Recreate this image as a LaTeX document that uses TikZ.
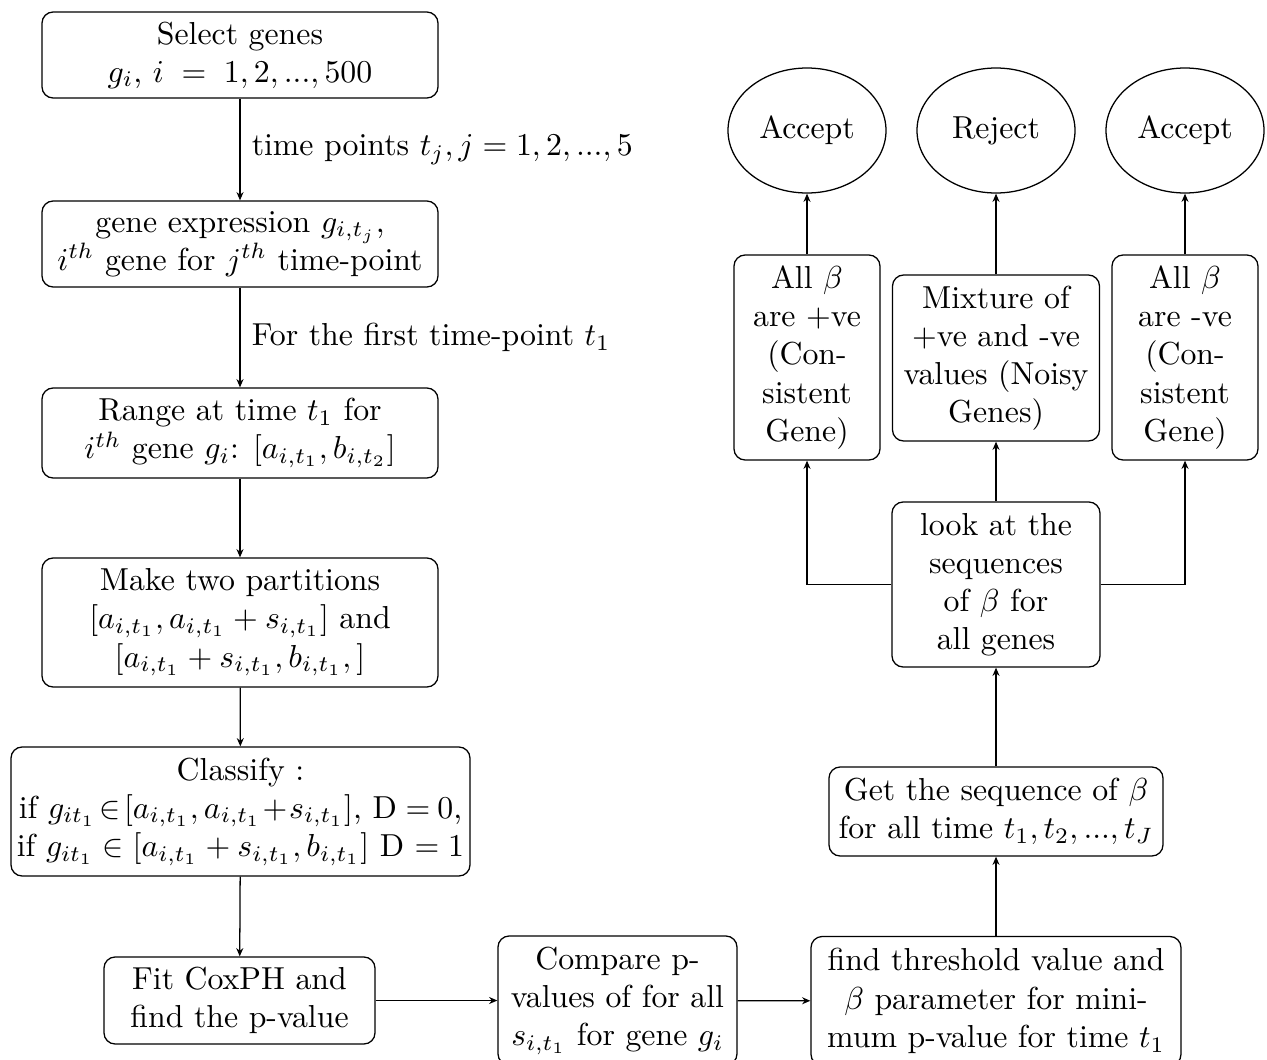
\documentclass[tikz,border=0pt]{standalone}
\usetikzlibrary{shapes.geometric,arrows.meta}
\def\PX{0.3145pt}
\begin{document}
\begin{tikzpicture}[x=0.3145pt,y=-0.3145pt,
  box/.style={draw, rounded corners=3.5pt, align=center, inner sep=0pt},
  oval/.style={draw, ellipse, inner sep=0pt, minimum width=158*\PX, minimum height=125*\PX},
  arr/.style={-{Stealth[length=2.6pt,width=2.2pt]}},
  lbl/.style={anchor=west, inner sep=0pt}]
\useasboundingbox (0,0) rectangle (1267,1059);
% left column
\node[box, minimum width=396*\PX, minimum height=86*\PX] (n1) at (240,55)
  {Select genes\\ $g_i$,\ $i\;=\;1,2,...,500$};
\node[box, minimum width=396*\PX, minimum height=86*\PX] (n2) at (240,244)
  {gene expression $g_{i,t_j}$,\\ $i^{th}$ gene for $j^{th}$ time-point};
\node[box, minimum width=396*\PX, minimum height=90*\PX] (n3) at (240,433)
  {Range at time $t_1$ for\\ $i^{th}$ gene $g_i$: $[a_{i,t_1}, b_{i,t_2}]$};
\node[box, minimum width=396*\PX, minimum height=129*\PX] (n4) at (240,622.5)
  {Make two partitions\\ $[a_{i,t_1}, a_{i,t_1} + s_{i,t_1}]$ and\\ $[a_{i,t_1} + s_{i,t_1}, b_{i,t_1},]$};
\node[box, minimum width=459*\PX, minimum height=129*\PX] (n5) at (240.5,811.5)
  {Classify :\\ if $g_{it_1}\mkern-3mu \in\mkern-3mu [a_{i,t_1}, a_{i,t_1}\!+\!s_{i,t_1}]$, D $\mkern-1mu=\mkern-1mu 0$,\\ if $g_{it_1} \in [a_{i,t_1} + s_{i,t_1}, b_{i,t_1}]$ D $= 1$};
\node[box, minimum width=271*\PX, minimum height=87*\PX] (n6) at (239.5,1000.5)
  {Fit CoxPH and\\ find the p-value};
% bottom row
\node[box, minimum width=239*\PX, minimum height=129*\PX] (n7) at (617.5,1000.5)
  {Compare p-\\ values of for all\\ $s_{i,t_1}$ for gene $g_i$};
\node[box, minimum width=370*\PX, minimum height=129*\PX] (n8) at (996,1001)
  {find threshold value and\\ $\beta$ parameter for mini-\\ mum p-value for time $t_1$};
% right column
\node[box, minimum width=334*\PX, minimum height=89*\PX] (n9) at (996,811.5)
  {Get the sequence of $\beta$\\ for all time $t_1, t_2, ..., t_J$};
\node[box, minimum width=208*\PX, minimum height=165*\PX] (n10) at (996,584.5)
  {look at the\\ sequences\\ of $\beta$ for\\ all genes};
\node[box, minimum width=146*\PX, minimum height=205*\PX] (n11) at (807,357.5)
  {All $\beta$\\ are +ve\\ (Con-\\ sistent\\ Gene)};
\node[box, minimum width=207*\PX, minimum height=166*\PX] (n12) at (996,358)
  {Mixture of\\ +ve and -ve\\ values (Noisy\\ Genes)};
\node[box, minimum width=146*\PX, minimum height=205*\PX] (n13) at (1185,357.5)
  {All $\beta$\\ are -ve\\ (Con-\\ sistent\\ Gene)};
\node[oval] (e1) at (807,130.5) {Accept};
\node[oval] (e2) at (996,130.5) {Reject};
\node[oval] (e3) at (1185,130.5) {Accept};
% connectors
\draw[arr] (n1) -- node[lbl, xshift=3.5pt] {time points $t_j, j = 1, 2, ..., 5$} (n2);
\draw[arr] (n2) -- node[lbl, xshift=3.5pt] {For the first time-point $t_1$} (n3);
\draw[arr] (n3) -- (n4);
\draw[arr] (n4) -- (n5);
\draw[arr] (n5) -- (n6);
\draw[arr] (n6) -- (n7);
\draw[arr] (n7) -- (n8);
\draw[arr] (n8) -- (n9);
\draw[arr] (n9) -- (n10);
\draw[arr] (n10) -- (n12);
\draw[arr] (n10.west) -| (n11.south);
\draw[arr] (n10.east) -| (n13.south);
\draw[arr] (n11) -- (e1);
\draw[arr] (n12) -- (e2);
\draw[arr] (n13) -- (e3);
\end{tikzpicture}
\end{document}
